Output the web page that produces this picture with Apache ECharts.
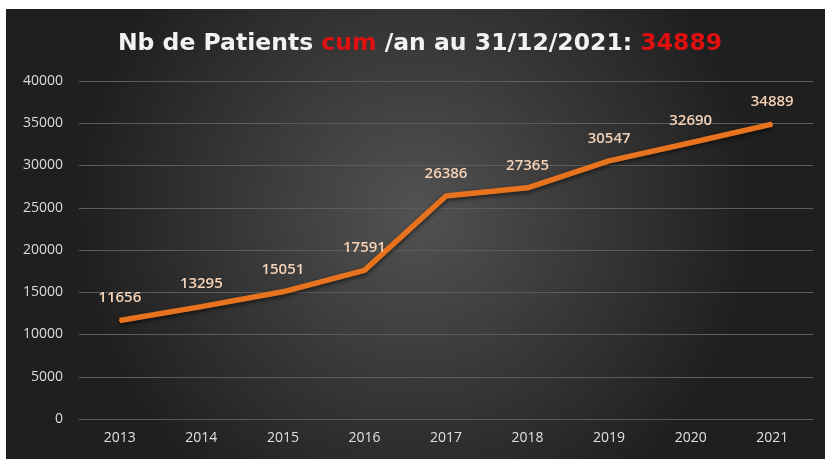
<!DOCTYPE html>
<html>
<head>
<meta charset="utf-8">
<script src="https://cdn.jsdelivr.net/npm/echarts@6/dist/echarts.min.js"></script>
<style>
  html, body { margin: 0; padding: 0; background: #fff; }
  #chart { width: 825px; height: 459px; }
</style>
</head>
<body>
<div id="chart"></div>
<script>
const years = ["2013", "2014", "2015", "2016", "2017", "2018", "2019", "2020", "2021"];
const patients = [11656, 13295, 15051, 17591, 26386, 27365, 30547, 32690, 34889];
const yTicks = [0, 5000, 10000, 15000, 20000, 25000, 30000, 35000, 40000];
const total = 34889;

const chart = echarts.init(document.getElementById("chart"));
const option = {
  backgroundColor: "#ffffff",
  graphic: [
    {
      type: "rect",
      z: -10,
      shape: { x: 6, y: 9, width: 819, height: 450 },
      style: {
        fill: {
          type: "radial",
          x: 0.5, y: 0.45, r: 0.75,
          colorStops: [
            { offset: 0, color: "#525252" },
            { offset: 1, color: "#1f1f1f" },
          ],
        },
      },
    },
  ],
  title: {
    text: "{w|Nb de Patients }{r|cum}{w| /an au 31/12/2021: }{r|" + total + "}",
    left: 415,
    textAlign: "center",
    top: 27,
    textStyle: {
      rich: {
        w: { color: "#f2f2f2", fontSize: 23.5, fontWeight: "bold", fontFamily: "DejaVu Sans" },
        r: { color: "#e01010", fontSize: 23.5, fontWeight: "bold", fontFamily: "DejaVu Sans" },
      },
    },
  },
  grid: { left: 79, right: 12, top: 81, bottom: 40 },
  xAxis: {
    type: "category",
    data: years,
    axisLine: { lineStyle: { color: "#5a5a5a", width: 1 } },
    axisTick: { show: false },
    axisLabel: { color: "#e0e0e0", fontSize: 14, fontFamily: "Open Sans", margin: 12 },
  },
  yAxis: {
    type: "value",
    min: yTicks[0],
    max: yTicks[yTicks.length - 1],
    interval: 5000,
    axisLine: { show: false },
    axisTick: { show: false },
    splitLine: { lineStyle: { color: "#5c5c5c", width: 1 } },
    axisLabel: {
      color: "#dcdcdc", fontSize: 14, fontFamily: "Open Sans", margin: 16,
      formatter: (v) => String(v),
    },
  },
  series: [
    {
      type: "line",
      data: patients,
      symbol: "circle",
      symbolSize: 2,
      itemStyle: { color: "#e8731e" },
      lineStyle: {
        color: "#e8731e",
        width: 5.5,
        shadowColor: "rgba(0,0,0,0.6)",
        shadowBlur: 4,
        shadowOffsetY: 2,
      },
      label: {
        show: true,
        position: "top",
        distance: 14,
        color: "#f5d2b6",
        fontSize: 15,
        fontWeight: 600,
        fontFamily: "Open Sans",
      },
    },
  ],
};
chart.setOption(option);
</script>
</body>
</html>
